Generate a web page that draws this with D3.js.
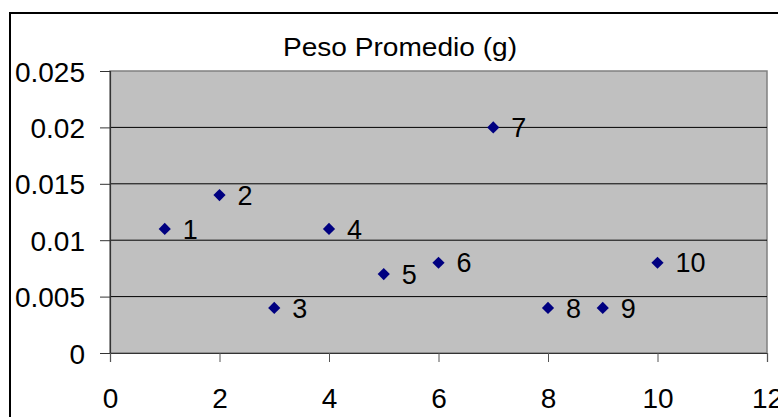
<!DOCTYPE html>
<html>
<head>
<meta charset="utf-8">
<script src="https://cdn.jsdelivr.net/npm/d3@7"></script>
<style>
  html, body { margin: 0; padding: 0; background: #ffffff; }
  svg { display: block; }
  text { font-family: "Liberation Sans", Arial, sans-serif; fill: #000; }
</style>
</head>
<body>
<svg id="chart" width="778" height="417"></svg>
<script>
const title = "Peso Promedio (g)";
const xValues = [1, 2, 3, 4, 5, 6, 7, 8, 9, 10];
const yValues = [0.011, 0.014, 0.004, 0.011, 0.007, 0.008, 0.02, 0.004, 0.004, 0.008];
const pointLabels = ["1", "2", "3", "4", "5", "6", "7", "8", "9", "10"];
const xTicks = [0, 2, 4, 6, 8, 10, 12];
const yTicks = [0, 0.005, 0.01, 0.015, 0.02, 0.025];
const yTickLabels = ["0", "0.005", "0.01", "0.015", "0.02", "0.025"];

const svg = d3.select("#chart");
const plot = { left: 110, top: 71, right: 767, bottom: 353 };

// outer chart border
svg.append("rect")
  .attr("x", 10).attr("y", 13)
  .attr("width", 800).attr("height", 450)
  .attr("fill", "#ffffff")
  .attr("stroke", "#000").attr("stroke-width", 2);

const x = d3.scaleLinear().domain([0, 12]).range([plot.left, plot.right]);
const y = d3.scaleLinear().domain([0, 0.025]).range([plot.bottom, plot.top]);

// plot area
svg.append("rect")
  .attr("x", plot.left).attr("y", plot.top)
  .attr("width", plot.right - plot.left).attr("height", plot.bottom - plot.top)
  .attr("fill", "#c0c0c0")
  .attr("stroke", "#808080").attr("stroke-width", 1.5);

// gridlines
svg.append("g").selectAll("line")
  .data(yTicks.slice(1, -1))
  .join("line")
  .attr("x1", plot.left).attr("x2", plot.right)
  .attr("y1", d => y(d)).attr("y2", d => y(d))
  .attr("stroke", "#000").attr("stroke-width", 1);

// y axis
const yAxis = svg.append("g")
  .attr("transform", `translate(${plot.left},0)`)
  .call(d3.axisLeft(y).tickValues(yTicks).tickSize(10).tickPadding(15)
    .tickFormat((d, i) => yTickLabels[i]));
yAxis.select(".domain").attr("stroke", "#333").attr("stroke-width", 1.2);
yAxis.selectAll(".tick line").attr("stroke", "#333");
yAxis.selectAll(".tick text")
  .attr("font-size", 28).attr("font-family", "Liberation Sans, Arial, sans-serif")
  .attr("fill", "#000").attr("dy", "0.36em");

// x axis
const xAxis = svg.append("g")
  .attr("transform", `translate(0,${plot.bottom})`)
  .call(d3.axisBottom(x).tickValues(xTicks).tickSize(9).tickPadding(26)
    .tickFormat(d3.format("d")));
xAxis.select(".domain").attr("stroke", "#333").attr("stroke-width", 1.2);
xAxis.selectAll(".tick line").attr("stroke", "#555");
xAxis.selectAll(".tick text")
  .attr("font-size", 28).attr("font-family", "Liberation Sans, Arial, sans-serif")
  .attr("fill", "#000").attr("dy", "0.71em");

// title
svg.append("text")
  .attr("x", 400).attr("y", 56)
  .attr("text-anchor", "middle")
  .attr("font-size", 25)
  .attr("textLength", 234).attr("lengthAdjust", "spacingAndGlyphs")
  .text(title);

// points
const data = xValues.map((v, i) => ({ x: v, y: yValues[i], label: pointLabels[i] }));
const diamond = d3.symbol().type(d3.symbolDiamond2).size(95);
svg.append("g").selectAll("path")
  .data(data)
  .join("path")
  .attr("d", diamond)
  .attr("transform", d => `translate(${x(d.x)},${y(d.y)})`)
  .attr("fill", "#000080");

svg.append("g").selectAll("text")
  .data(data)
  .join("text")
  .attr("x", d => x(d.x) + 18)
  .attr("y", d => y(d.y))
  .attr("dy", "0.36em")
  .attr("font-size", 27)
  .text(d => d.label);
</script>
</body>
</html>
